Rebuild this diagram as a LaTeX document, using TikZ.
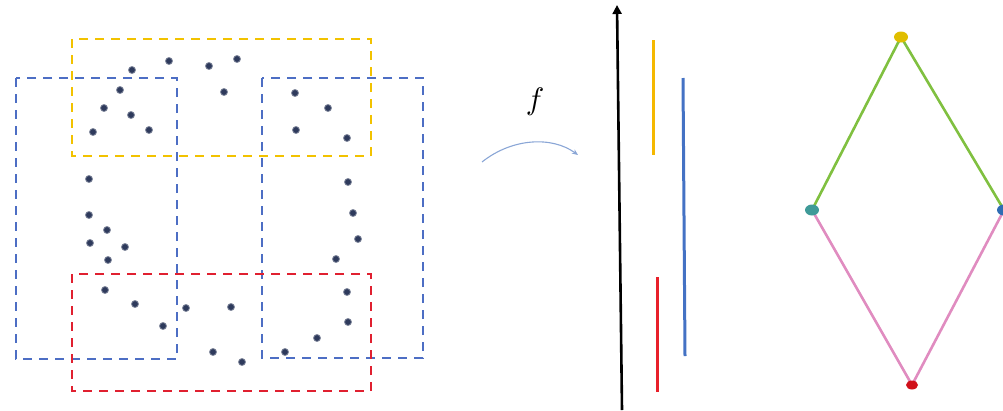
\documentclass[tikz,border=0pt]{standalone}
\usetikzlibrary{arrows.meta,shapes.geometric}
\definecolor{dotc}{HTML}{2E3A5C}
\definecolor{yelc}{HTML}{F2C200}
\definecolor{bluc}{HTML}{4D6EC4}
\definecolor{redc}{HTML}{E02030}
\definecolor{ylin}{HTML}{F5B800}
\definecolor{blin}{HTML}{4472C4}
\definecolor{rlin}{HTML}{E8202A}
\definecolor{grn}{HTML}{80C040}
\definecolor{pnk}{HTML}{E08CC0}
\definecolor{arrc}{HTML}{8AA6D6}
\definecolor{ndy}{HTML}{E0BE00}
\definecolor{ndt}{HTML}{3F9A98}
\definecolor{ndb}{HTML}{2E6DB4}
\definecolor{ndr}{HTML}{D0101A}
\tikzset{
  pt/.style={circle,fill=dotc,draw=dotc!60,line width=0.8pt,inner sep=0pt,minimum size=7pt},
  dbox/.style={line width=2.6pt,dash pattern=on 9pt off 7pt},
  seg/.style={line width=3pt},
  vtx/.style={ellipse,inner sep=0pt,minimum width=14pt,minimum height=11pt},
  gedge/.style={line width=2.6pt}
}
\begin{document}
\begin{tikzpicture}[x=1pt,y=-1pt]
\useasboundingbox (0,0) rectangle (1003,410);
% dashed rectangles
\draw[dbox,bluc] (16,78) rectangle (177,359);
\draw[dbox,bluc] (262,78) rectangle (423,358);
\draw[dbox,yelc] (72,39) rectangle (371,156);
\draw[dbox,redc] (72,274) rectangle (371,391);
% points
\foreach \i/\x/\y in {1/169/61,2/132/70,3/209/66,4/237/59,5/120/90,6/224/92,7/104/108,8/131/115,9/93/132,10/149/130,
 11/295/93,12/328/108,13/296/130,14/347/138,15/89/179,16/89/215,17/107/230,18/90/243,19/125/247,20/108/260,
 21/348/182,22/353/213,23/358/239,24/336/259,25/105/290,26/135/304,27/163/326,28/186/308,29/231/307,30/213/352,
 31/242/362,32/347/292,33/348/322,34/317/338,35/285/352}
  \node[pt] (p\i) at (\x,\y) {};
% map label and arrow
\node[scale=3.1] (f) at (535,102) {$f$};
\coordinate (a0) at (482,162);
\coordinate (a1) at (578,155);
\draw[arrc,line width=1.1pt,-{Stealth[length=6pt,width=5pt]}] (a0) .. controls (512,138) and (552,136) .. (a1);
% axis
\coordinate (ax0) at (622,410);
\coordinate (ax1) at (617,5);
\draw[line width=2.6pt,-{Triangle[length=9pt,width=9pt]}] (ax0) -- (ax1);
% intervals
\coordinate (y0) at (653,40); \coordinate (y1) at (653,155);
\coordinate (b0) at (683,78); \coordinate (b1) at (685,356);
\coordinate (r0) at (657,277); \coordinate (r1) at (657,392);
\draw[seg,ylin] (y0) -- (y1);
\draw[seg,blin] (b0) -- (b1);
\draw[seg,rlin] (r0) -- (r1);
% nerve graph
\draw[gedge,grn] (901,37) -- (812,210);
\draw[gedge,grn] (901,37) -- (1004,210);
\draw[gedge,pnk] (812,210) -- (912,385);
\draw[gedge,pnk] (1004,210) -- (912,385);
\node[vtx,fill=ndy] (top) at (901,37) {};
\node[vtx,fill=ndt] (lft) at (812,210) {};
\node[vtx,fill=ndb] (rgt) at (1004,210) {};
\node[vtx,fill=ndr,minimum width=12pt,minimum height=9pt] (bot) at (912,385) {};
\end{tikzpicture}
\end{document}
